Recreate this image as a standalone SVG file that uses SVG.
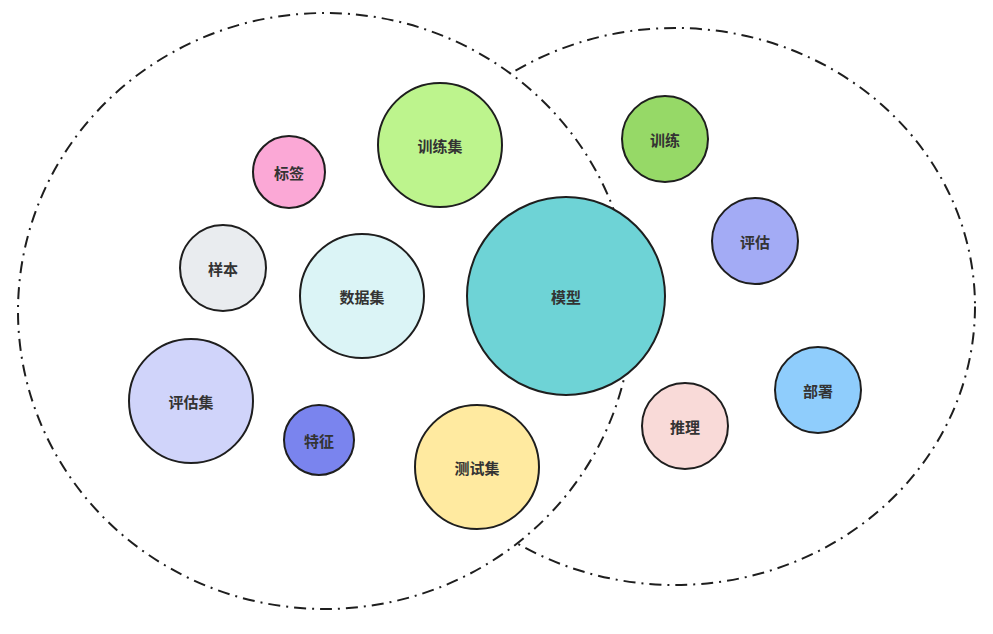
<svg xmlns="http://www.w3.org/2000/svg" width="993" height="634" viewBox="0 0 993 634">
<style>
.grp{stroke:#1e1e1e;stroke-width:2;stroke-dasharray:12 6 2 6;}
.n circle{stroke:#1e1e1e;stroke-width:2;}
.n text{font-family:"Noto Sans CJK SC","Noto Sans",sans-serif;font-size:15px;font-weight:bold;fill:#333;text-anchor:middle;dominant-baseline:central;}
</style>
<rect width="993" height="634" fill="#ffffff"/>
<g id="groups">
<ellipse id="group-model" class="grp" cx="675" cy="306.5" rx="300" ry="278.5" fill="none"/>
<ellipse id="group-data" class="grp" cx="325" cy="311" rx="307" ry="298" fill="#ffffff"/>
</g>
<g id="connectors"></g>
<g id="n-xunlianji" class="n"><circle cx="440" cy="145" r="62" fill="#bdf48d"/><text x="440" y="145">训练集</text></g>
<g id="n-biaoqian" class="n"><circle cx="289" cy="172" r="36" fill="#fba8d6"/><text x="289" y="172">标签</text></g>
<g id="n-yangben" class="n"><circle cx="223" cy="268" r="43" fill="#e9ecef"/><text x="223" y="268">样本</text></g>
<g id="n-shujuji" class="n"><circle cx="362" cy="296" r="62" fill="#dbf4f6"/><text x="362" y="296">数据集</text></g>
<g id="n-moxing" class="n"><circle cx="566" cy="296" r="99" fill="#6ed3d6"/><text x="566" y="296">模型</text></g>
<g id="n-pingguji" class="n"><circle cx="191" cy="401" r="62" fill="#d0d4fa"/><text x="191" y="401">评估集</text></g>
<g id="n-tezheng" class="n"><circle cx="319" cy="440" r="35" fill="#7a84ee"/><text x="319" y="440">特征</text></g>
<g id="n-ceshiji" class="n"><circle cx="477" cy="467" r="62" fill="#ffeaa0"/><text x="477" y="467">测试集</text></g>
<g id="n-xunlian" class="n"><circle cx="665" cy="139" r="43" fill="#96d967"/><text x="665" y="139">训练</text></g>
<g id="n-pinggu" class="n"><circle cx="755" cy="241" r="43" fill="#a3abf5"/><text x="755" y="241">评估</text></g>
<g id="n-bushu" class="n"><circle cx="818" cy="390" r="43" fill="#8fcdfc"/><text x="818" y="390">部署</text></g>
<g id="n-tuili" class="n"><circle cx="685" cy="426" r="43" fill="#f9dad8"/><text x="685" y="426">推理</text></g>
</svg>
